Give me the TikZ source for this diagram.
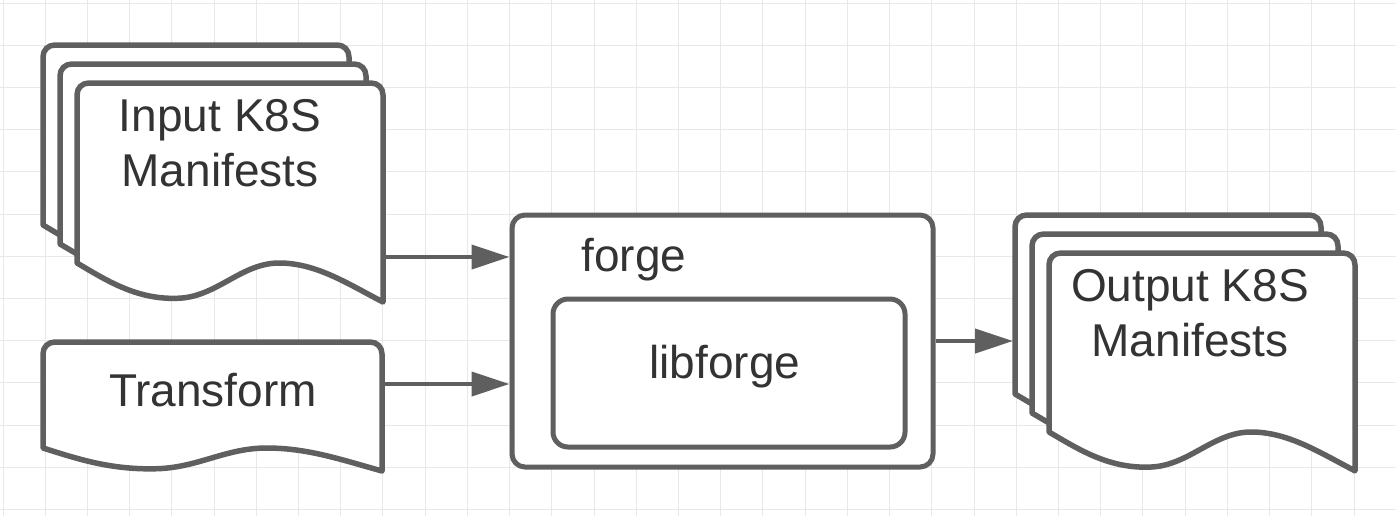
\documentclass[tikz,border=0pt]{standalone}
\usepackage{fontspec}
\setmainfont{Liberation Sans}
\usepackage{tikz}
\usetikzlibrary{arrows.meta,positioning}

\definecolor{edgegray}{HTML}{5F5F5F}
\definecolor{textgray}{HTML}{333333}
\definecolor{gridgray}{HTML}{E8E8E8}

% document sheet: x, y (top left), width, height of the left side
\newcommand{\kdoc}[4]{%
  \filldraw[docline] (#1,#2+#4)
    -- (#1,#2+12) .. controls (#1,#2+5) and (#1+5,#2) .. (#1+12,#2)
    -- (#1+#3-12,#2) .. controls (#1+#3-5,#2) and (#1+#3,#2+5) .. (#1+#3,#2+12)
    -- (#1+#3,#2+1.217*#4)
    .. controls (#1+0.88*#3,#2+1.11*#4) and (#1+0.78*#3,#2+#4) .. (#1+0.66*#3,#2+#4)
    .. controls (#1+0.54*#3,#2+#4) and (#1+0.46*#3,#2+1.18*#4) .. (#1+0.34*#3,#2+1.195*#4)
    .. controls (#1+0.2*#3,#2+1.21*#4) and (#1+0.1*#3,#2+1.1*#4) .. (#1,#2+#4)
    -- cycle;}

\begin{document}
\begin{tikzpicture}[x=0.5pt,y=-0.5pt,>={Triangle[length=19pt,width=12pt]},
                    font=\fontsize{23}{27.5}\selectfont,text=textgray]
  \tikzstyle{docline}=[draw=edgegray,fill=white,line width=2.75pt,line join=round]
  \tikzstyle{box}=[draw=edgegray,fill=white,line width=2.5pt,rounded corners=6.5pt]
  \tikzstyle{flow}=[->,draw=edgegray,line width=2pt]
  \tikzstyle{gridline}=[draw=gridgray,line width=0.5pt]
  \tikzstyle{txt}=[inner sep=0pt,align=center]

  \useasboundingbox (0,0) rectangle (1396,516);
  \foreach \i in {0,...,32}
    \draw[gridline] (3+42.22*\i,0) -- (3+42.22*\i,516);
  \foreach \j in {0,...,12}
    \draw[gridline] (0,3+42.22*\j) -- (1396,3+42.22*\j);

  % input manifests
  \kdoc{43}{45}{306}{180}
  \kdoc{60}{64}{306}{180}
  \kdoc{77}{83}{306}{180}
  \node[txt] (inDoc) at (220,143) {Input K8S\\Manifests};

  % transform
  \kdoc{43}{342}{339}{106}
  \node[txt] (trDoc) at (213,390) {Transform};

  % forge
  \node[box,minimum width=210.5pt,minimum height=126pt] (forge) at (722.5,341) {};
  \node[txt] (forgeLbl) at (634,260) {forge};
  \node[box,rounded corners=7.5pt,minimum width=176pt,minimum height=74pt] (lib) at (729,373) {};
  \node[txt] (libLbl) at (725,367) {libforge};

  % output manifests
  \kdoc{1015}{215}{306}{179}
  \kdoc{1032}{234}{306}{179}
  \kdoc{1049}{253}{306}{179}
  \node[txt] (outDoc) at (1190,313) {Output K8S\\Manifests};

  \coordinate (inR) at (384,257);
  \coordinate (trR) at (382,384);
  \coordinate (outL) at (1013,341);

  \path (inR) edge[flow] (inR -| forge.west)
        (trR) edge[flow] (trR -| forge.west)
        (forge.east) edge[flow] (outL);

\end{tikzpicture}
\end{document}
